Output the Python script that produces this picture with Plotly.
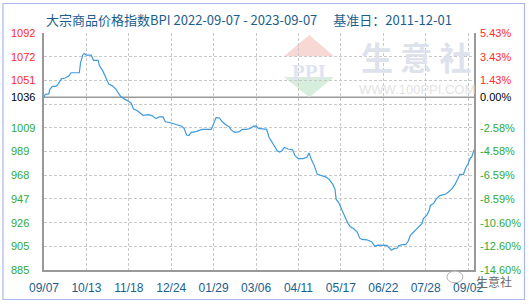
import pandas as pd
import plotly.graph_objects as go

# ---------------- data ----------------
start_date = "2022-09-07"
end_date = "2023-09-07"
base_value = 1036

day_offsets = [0, 1, 4, 5, 7, 10, 12, 15, 18, 21, 23, 30, 31, 33, 34, 36, 40, 41, 42, 46,
               47, 50, 52, 54, 55, 58, 61, 63, 65, 68, 71, 74, 76, 79, 81, 84, 89, 92, 95, 98,
               101, 103, 107, 111, 117, 119, 121, 123, 125, 129, 134, 142, 144, 146, 149, 151, 154, 157, 159, 162,
               166, 168, 172, 175, 178, 180, 182, 186, 189, 191, 193, 196, 198, 200, 202, 204, 207, 211, 213, 216,
               220, 223, 225, 227, 229, 232, 236, 239, 242, 245, 247, 248, 250, 253, 256, 258, 260, 263, 266, 268,
               270, 274, 278, 281, 283, 291, 294, 295, 297, 300, 301, 304, 307, 309, 311, 314, 318, 321, 322, 325,
               327, 328, 331, 333, 336, 341, 343, 346, 349, 351, 353, 356, 358, 360, 362, 363, 364, 365]

bpi_values = [1036.0, 1038.5, 1039.0, 1043.0, 1045.5, 1045.5, 1047.5, 1052.4, 1052.9, 1054.6,
              1057.5, 1057.5, 1066.2, 1073.3, 1074.4, 1073.0, 1073.0, 1069.9, 1068.4, 1068.4,
              1063.8, 1058.9, 1054.6, 1048.9, 1047.5, 1046.0, 1043.2, 1039.8, 1036.9, 1034.6,
              1033.1, 1030.8, 1025.8, 1024.5, 1022.5, 1020.2, 1020.8, 1019.7, 1017.3, 1018.8,
              1018.8, 1014.5, 1013.7, 1012.4, 1010.7, 1008.7, 1003.0, 1002.4, 1005.3, 1005.9,
              1007.9, 1007.9, 1013.0, 1018.2, 1017.9, 1015.0, 1012.2, 1010.2, 1007.2, 1005.3,
              1005.9, 1007.9, 1007.9, 1008.7, 1010.7, 1011.0, 1008.7, 1007.9, 1007.9, 1001.0,
              997.3, 993.0, 989.2, 988.1, 989.2, 992.1, 990.7, 990.1, 984.9, 982.3,
              982.3, 983.5, 987.2, 981.4, 977.2, 968.5, 967.1, 966.3, 964.2, 959.9,
              955.6, 946.5, 944.0, 937.0, 931.2, 925.5, 922.5, 920.8, 917.8, 912.6,
              911.5, 911.2, 909.5, 905.4, 906.5, 906.3, 903.1, 902.0, 903.4, 904.0,
              906.0, 906.9, 906.9, 909.7, 915.0, 918.3, 922.6, 925.5, 929.8, 932.7,
              937.0, 941.3, 943.3, 947.0, 949.9, 951.3, 952.8, 955.6, 959.9, 964.2,
              968.5, 968.5, 974.3, 977.8, 983.0, 983.5, 987.2, 990.1]

assert len(day_offsets) == len(bpi_values)

x_tick_dates = ["2022-09-07", "2022-10-13", "2022-11-18", "2022-12-24", "2023-01-29",
                "2023-03-06", "2023-04-11", "2023-05-17", "2023-06-22", "2023-07-28", "2023-09-02"]
x_tick_labels = ["09/07", "10/13", "11/18", "12/24", "01/29",
                 "03/06", "04/11", "05/17", "06/22", "07/28", "09/02"]

grid_pct = [-14.60, -12.60, -10.60, -8.59, -6.59, -4.58, -2.58, -0.58, 1.43, 3.43, 5.43]
left_labels = ["885", "905", "926", "947", "968", "989", "1009", "", "1051", "1072", "1092"]
right_labels = ["-14.60%", "-12.60%", "-10.60%", "-8.59%", "-6.59%", "-4.58%", "-2.58%", "",
                "1.43%", "3.43%", "5.43%"]
base_left_label = "1036"
base_right_label = "0.00%"

title_text = "大宗商品价格指数BPI 2022-09-07 - 2023-09-07　 基准日：2011-12-01"

# ---------------- derived ----------------
dates = pd.Timestamp(start_date) + pd.to_timedelta(day_offsets, unit="D")
grid_vals = [base_value * (1 + p / 100) for p in grid_pct]
y_range = [grid_vals[0] - 0.01, grid_vals[-1] + 0.05]

RED = "#ff2b2b"
GREEN = "#2eaa3a"
BLACK = "#000000"
BLUE_TXT = "#1a5e8e"
GRID = "#c8c8c8"
AXIS = "#999999"

fig = go.Figure()
fig.add_trace(go.Scatter(
    x=dates, y=bpi_values, mode="lines",
    line=dict(color="#3d9be0", width=1.2),
    hoverinfo="skip", showlegend=False,
))

fig.update_layout(
    width=529, height=307,
    margin=dict(l=44, r=55, t=33, b=33),
    paper_bgcolor="white", plot_bgcolor="white",
    showlegend=False,
    font=dict(family="Liberation Sans, Arial, sans-serif", size=11),
)

fig.update_xaxes(
    type="date",
    range=[start_date, end_date],
    tickmode="array", tickvals=x_tick_dates, ticktext=x_tick_labels,
    tickfont=dict(color=BLUE_TXT, size=12, family="Liberation Sans, Arial"),
    ticks="", ticklabelstandoff=6,
    showgrid=True, gridcolor=GRID, griddash="3px,2px", gridwidth=1,
    showline=True, linecolor=AXIS, linewidth=1.5, mirror=False,
    zeroline=False,
)
fig.update_yaxes(
    range=y_range,
    tickmode="array", tickvals=grid_vals, showticklabels=False,
    ticks="",
    showgrid=True, gridcolor=GRID, griddash="3px,2px", gridwidth=1,
    showline=True, linecolor=AXIS, linewidth=1.5, mirror=True,
    zeroline=False,
)

annotations = []


def label_color(p):
    return RED if p > 0 else (GREEN if p < 0 else BLACK)


for p, v, lt, rt in zip(grid_pct, grid_vals, left_labels, right_labels):
    if lt:
        annotations.append(dict(x=-0.0815, xref="paper", y=v, yref="y", text=lt,
                                xanchor="left", yanchor="middle", showarrow=False,
                                font=dict(color=label_color(p), size=11,
                                          family="Liberation Sans, Arial")))
    if rt:
        annotations.append(dict(x=1.0095, xref="paper", y=v, yref="y", text=rt,
                                xanchor="left", yanchor="middle", showarrow=False,
                                font=dict(color=label_color(p), size=11,
                                          family="Liberation Sans, Arial")))
annotations.append(dict(x=-0.0815, xref="paper", y=base_value, yref="y", text=base_left_label,
                        xanchor="left", yanchor="middle", showarrow=False,
                        font=dict(color=BLACK, size=11, family="Liberation Sans, Arial")))
annotations.append(dict(x=1.0095, xref="paper", y=base_value, yref="y", text=base_right_label,
                        xanchor="left", yanchor="middle", showarrow=False,
                        font=dict(color=BLACK, size=11, family="Liberation Sans, Arial")))

# title
annotations.append(dict(x=0.0, xref="paper", y=1.0 + 14 / 241, yref="paper", text=title_text,
                        xanchor="left", yanchor="middle", showarrow=False,
                        font=dict(color=BLUE_TXT, size=13, family="Noto Sans CJK SC")))

# watermark texts
annotations.append(dict(x=0.617, xref="paper", y=0.8335, yref="paper", text="<b>PPI</b>",
                        xanchor="center", yanchor="middle", showarrow=False,
                        font=dict(color="#dfe4f0", size=21, family="Liberation Serif")))
annotations.append(dict(x=0.8663, xref="paper", y=0.9046, yref="paper", text="<b>生 意 社</b>",
                        xanchor="center", yanchor="middle", showarrow=False,
                        font=dict(color="#dde2ec", size=32, family="Noto Sans CJK SC")))
annotations.append(dict(x=0.8663, xref="paper", y=0.7614, yref="paper", text="WWW.100PPI.COM",
                        xanchor="center", yanchor="middle", showarrow=False,
                        font=dict(color="#e3e3e3", size=13, family="Liberation Sans")))
# bottom-right stamp
annotations.append(dict(x=1.0465, xref="paper", y=-0.049, yref="paper", text="生意社",
                        xanchor="center", yanchor="middle", showarrow=False,
                        font=dict(color="#6a6a6a", size=12, family="Noto Sans CJK SC")))

shapes = [
    # outer border
    dict(type="rect", xref="paper", yref="paper", x0=-0.0953, x1=1.1174, y0=-0.1245, y1=1.1245,
         line=dict(color="#a8b8ee", width=1.2), fillcolor="rgba(0,0,0,0)", layer="below"),
    # base line
    dict(type="line", xref="paper", yref="y", x0=0, x1=1, y0=base_value, y1=base_value,
         line=dict(color=AXIS, width=1.5), layer="between"),
    # watermark triangles
    dict(type="path", xref="paper", yref="paper",
         path="M 0.6170 0.9917 L 0.5581 0.9017 L 0.6744 0.9017 Z",
         fillcolor="#f8d8d5", line=dict(width=0), layer="below"),
    dict(type="path", xref="paper", yref="paper",
         path="M 0.5581 0.8145 L 0.6744 0.8145 L 0.6170 0.7290 Z",
         fillcolor="#d8eedc", line=dict(width=0), layer="below"),
    # stamp icon
    dict(type="circle", xref="paper", yref="paper", x0=0.937, x1=0.974, y0=-0.004, y1=-0.054,
         line=dict(color="#b0b0b0", width=1), fillcolor="rgba(255,255,255,0.6)"),
]

fig.update_layout(annotations=annotations, shapes=shapes)

fig.write_html("out.html")
